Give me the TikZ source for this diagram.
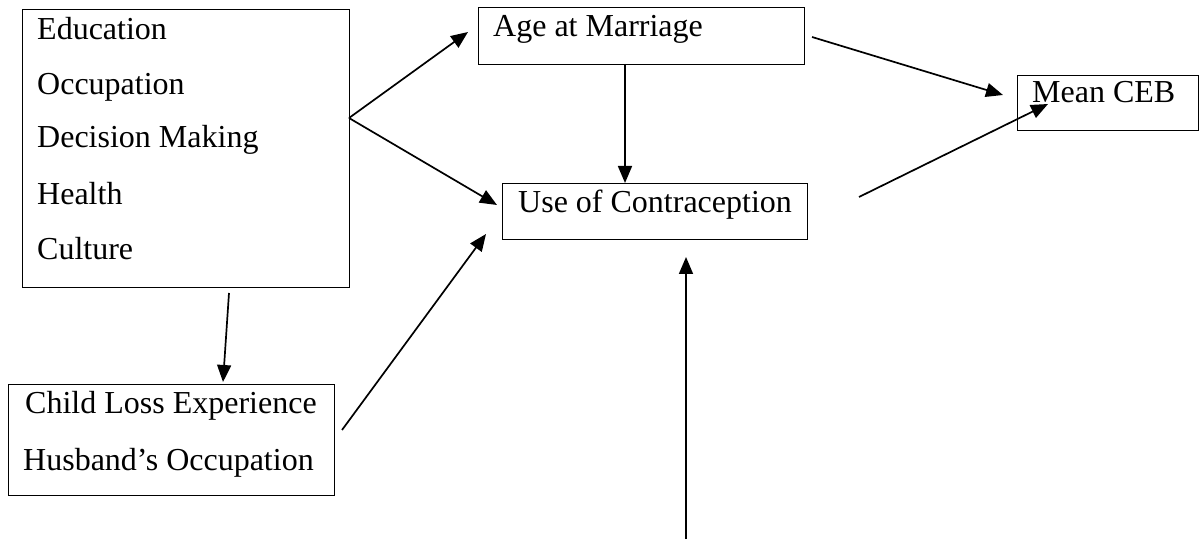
\documentclass[tikz,border=0pt]{standalone}
\usepackage{fontspec}
\setmainfont{Liberation Serif}
\usetikzlibrary{arrows.meta}
\begin{document}
\begin{tikzpicture}[x=1pt,y=-1pt,
  box/.style={draw=black,line width=1.3pt,inner sep=0pt,anchor=north west},
  lbl/.style={anchor=base west,inner sep=0pt,font=\fontsize{32}{38}\selectfont},
  arr/.style={line width=1.7pt,-{Triangle[length=17pt,width=14pt]}}]
\useasboundingbox (0,0) rectangle (1203,548);
% boxes
\node[box,minimum width=327pt,minimum height=278pt] (b1) at (22,9) {};
\node[box,minimum width=326pt,minimum height=57pt] (age) at (478,7) {};
\node[box,minimum width=305pt,minimum height=56pt] (con) at (502,183) {};
\node[box,minimum width=181pt,minimum height=55pt] (ceb) at (1017,75) {};
\node[box,minimum width=326pt,minimum height=111pt] (chl) at (8,384) {};
% texts
\node[lbl] (t1) at (37,40) {Education};
\node[lbl] (t2) at (37,95) {Occupation};
\node[lbl] (t3) at (37,148) {Decision Making};
\node[lbl] (t4) at (37,205) {Health};
\node[lbl] (t5) at (37,260) {Culture};
\node[lbl] (tage) at (493,37) {Age at Marriage};
\node[lbl] (tcon) at (518,213) {Use of Contraception};
\node[lbl] (tceb) at (1032,103) {Mean CEB};
\node[lbl] (tch1) at (25,413) {Child Loss Experience};
\node[lbl] (tch2) at (23,470) {Husband’s Occupation};
% connector end points
\coordinate (p1) at (349,118);
\coordinate (q1) at (468,32);
\coordinate (q2) at (497,205);
\coordinate (p3) at (625,64);
\coordinate (q3) at (625,183);
\coordinate (p4) at (812,37);
\coordinate (q4) at (1003,95);
\coordinate (p5) at (859,197);
\coordinate (q5) at (1048,104);
\coordinate (p6) at (342,430);
\coordinate (q6) at (486,234);
\coordinate (p7) at (686,539);
\coordinate (q7) at (686,257);
\coordinate (p8) at (229,293);
\coordinate (q8) at (223,382);
% connectors
\draw[arr] (p1) -- (q1);
\draw[arr] (p1) -- (q2);
\draw[arr] (p3) -- (q3);
\draw[arr] (p4) -- (q4);
\draw[arr] (p5) -- (q5);
\draw[arr] (p6) -- (q6);
\draw[arr] (p7) -- (q7);
\draw[arr] (p8) -- (q8);
\end{tikzpicture}
\end{document}
